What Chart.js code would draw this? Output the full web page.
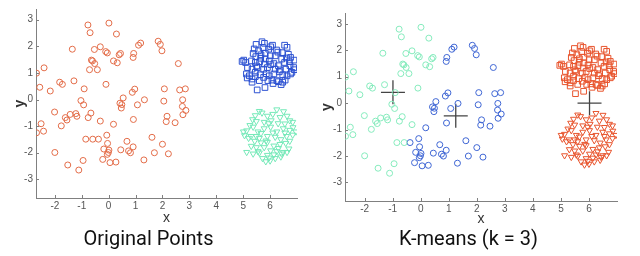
<!DOCTYPE html>
<html>
<head>
<meta charset="utf-8">
<script src="https://cdn.jsdelivr.net/npm/chart.js@4/dist/chart.umd.min.js"></script>
<style>
  html, body { margin: 0; padding: 0; background: #fff; }
  .wrap { display: flex; width: 640px; height: 256px; }
  .wrap div { width: 320px; height: 256px; }
</style>
</head>
<body>
<div class="wrap">
  <div><canvas id="orig" width="320" height="256"></canvas></div>
  <div><canvas id="kmeans" width="320" height="256"></canvas></div>
</div>
<script>
// tick labels
const xTicks = [-2, -1, 0, 1, 2, 3, 4, 5, 6];
const yTicks = [-3, -2, -1, 0, 1, 2, 3];

// group 1: the wide cloud of circles
const circlePts = [
  [-0.77, 2.80], [0.01, 2.87], [-0.69, 2.51], [0.29, 2.46], [-1.35, 1.89], [-0.53, 1.88],
  [-0.31, 1.98], [-0.11, 1.80], [-0.05, 1.75], [0.39, 1.68], [0.44, 1.73], [0.93, 1.73],
  [0.91, 1.58], [1.11, 2.04], [1.19, 2.12], [1.84, 2.19], [1.92, 2.07], [1.98, 1.83],
  [-0.64, 1.48], [-0.60, 1.45], [-0.71, 1.12], [-0.52, 1.35], [-0.42, 1.12], [0.18, 1.45],
  [0.32, 1.38], [2.59, 1.35], [-2.68, 0.99], [-2.40, 1.19], [-2.56, 0.46], [-2.17, 0.32],
  [-1.82, 0.65], [-1.72, 0.57], [-1.29, 0.70], [-0.91, 0.40], [-0.10, 0.57], [0.88, 0.27],
  [0.97, 0.39], [2.07, 0.40], [2.64, 0.36], [2.85, 0.40], [-1.03, -0.04], [-0.93, -0.20],
  [0.42, -0.14], [0.47, -0.32], [0.54, 0.06], [0.49, -0.19], [1.07, -0.20], [1.33, -0.01],
  [2.05, -0.06], [2.75, -0.01], [2.74, -0.26], [2.87, -0.41], [2.76, -0.57], [-2.01, -0.47],
  [-1.22, -0.53], [-1.18, -0.63], [-1.43, -0.56], [-1.61, -0.68], [-1.55, -0.77], [-1.76, -0.99],
  [-0.66, -0.51], [-0.76, -0.68], [-0.31, -0.81], [0.18, -0.93], [0.92, -0.75], [2.17, -0.63],
  [2.14, -0.83], [2.47, -0.87], [-2.51, -0.91], [-2.68, -1.25], [-2.42, -1.19], [-0.85, -1.49],
  [-0.59, -1.49], [-0.38, -1.49], [-0.07, -1.34], [-0.04, -1.65], [0.68, -1.57], [1.61, -1.42],
  [-0.18, -1.86], [-0.01, -1.99], [0.01, -1.90], [0.45, -1.89], [0.74, -1.93], [0.81, -2.00],
  [0.91, -1.78], [2.00, -1.68], [1.70, -2.00], [2.22, -2.04], [-2.00, -1.99], [-0.22, -2.25],
  [0.05, -2.37], [0.27, -2.35], [-0.95, -2.29], [1.31, -2.27], [-1.52, -2.46], [-1.11, -2.65],
  [-0.05, -2.06]
];

// group 2: upper right blob of squares
const squarePts = [
  [5.48, 2.07], [5.70, 2.17], [5.79, 2.11], [6.09, 2.04], [6.54, 2.04], [6.63, 1.96],
  [6.29, 1.78], [5.95, 1.89], [5.57, 1.83], [5.37, 1.73], [5.47, 1.61], [5.66, 1.68],
  [5.82, 1.74], [6.01, 1.64], [6.19, 1.64], [6.43, 1.52], [6.68, 1.70], [6.76, 1.58],
  [6.89, 1.48], [5.02, 1.48], [5.09, 1.39], [5.31, 1.45], [5.45, 1.39], [5.61, 1.42],
  [5.79, 1.33], [5.97, 1.45], [6.14, 1.35], [6.31, 1.27], [6.54, 1.39], [6.74, 1.27],
  [6.88, 1.20], [6.90, 1.12], [5.16, 1.20], [5.33, 1.14], [5.52, 1.20], [5.76, 1.14],
  [5.90, 1.20], [6.19, 1.14], [6.38, 1.11], [6.58, 1.14], [6.81, 1.02], [5.12, 0.96],
  [5.23, 0.89], [5.45, 1.02], [5.63, 0.93], [5.76, 0.83], [5.97, 0.89], [6.14, 0.96],
  [6.34, 1.04], [6.47, 0.93], [6.63, 0.89], [6.76, 0.96], [5.15, 0.81], [5.33, 0.77],
  [5.60, 0.71], [5.92, 0.71], [6.07, 0.73], [6.25, 0.71], [6.47, 0.65], [5.45, 0.86],
  [5.33, 0.65], [5.52, 0.36], [5.81, 0.45], [6.31, 0.67], [6.41, 0.56], [6.56, 0.73],
  [4.96, 1.43], [5.74, 1.95], [6.02, 1.98], [6.72, 1.42], [5.82, 1.52], [5.65, 1.55],
  [6.03, 1.31], [6.24, 1.86], [5.50, 1.26], [6.61, 1.56], [5.86, 0.97], [6.11, 0.60],
  [5.41, 1.90], [6.45, 1.76]
];

// group 3: lower right blob of down triangles
const trianglePts = [
  [5.60, -0.44], [5.90, -0.62], [6.25, -0.38], [6.63, -0.62], [6.73, -0.79], [5.25, -0.97],
  [5.49, -0.82], [5.78, -0.85], [6.04, -0.79], [6.37, -0.67], [6.55, -0.91], [6.84, -0.85],
  [5.13, -1.17], [5.37, -1.03], [5.55, -1.21], [5.78, -1.09], [6.02, -1.03], [6.25, -1.21],
  [6.49, -1.09], [6.73, -1.15], [6.96, -1.21], [5.01, -1.21], [5.29, -1.38], [5.49, -1.38],
  [5.66, -1.27], [5.90, -1.38], [6.19, -1.41], [6.40, -1.50], [6.61, -1.38], [6.84, -1.33],
  [5.43, -1.56], [5.66, -1.62], [5.90, -1.60], [6.14, -1.74], [6.37, -1.68], [6.58, -1.64],
  [6.73, -1.56], [5.49, -1.80], [5.78, -1.80], [6.02, -1.92], [6.31, -1.83], [6.49, -1.98],
  [5.13, -1.98], [5.37, -2.04], [5.60, -2.00], [5.90, -2.09], [6.14, -2.07], [6.43, -2.04],
  [6.63, -1.98], [5.72, -2.21], [5.96, -2.19], [6.19, -2.21], [5.84, -2.33], [5.70, -0.50],
  [6.10, -0.55], [5.35, -0.75], [6.50, -0.45], [5.95, -0.90], [5.20, -1.45], [6.10, -1.25],
  [5.60, -1.45], [6.85, -1.05], [5.30, -1.75], [6.55, -1.25], [5.55, -1.95], [6.25, -1.95],
  [6.00, -2.30], [5.45, -0.60], [6.30, -0.90], [5.85, -1.55], [6.70, -1.85], [5.05, -1.35],
  [6.40, -2.15]
];

// k-means centres (k = 3)
const centroids = [[-0.99, 0.41], [1.25, -0.48], [6.02, 0.0]];

const toXY = pts => pts.map(p => ({ x: p[0], y: p[1] }));

// nearest-centre split of the circle cloud
function nearest(p) {
  let best = 0, bd = Infinity;
  centroids.forEach((c, i) => {
    const d = (p[0] - c[0]) ** 2 + (p[1] - c[1]) ** 2;
    if (d < bd) { bd = d; best = i; }
  });
  return best;
}
const circlesA = circlePts.filter(p => nearest(p) === 0);
const circlesB = circlePts.filter(p => nearest(p) !== 0);

// small inward tick marks like the original plots
const innerTicks = {
  id: 'innerTicks',
  afterDraw(chart) {
    const { ctx, chartArea: a, scales: { x, y } } = chart;
    ctx.save();
    ctx.strokeStyle = '#808080';
    ctx.lineWidth = 1;
    ctx.beginPath();
    x.ticks.forEach(t => {
      const px = Math.round(x.getPixelForValue(t.value)) + 0.5;
      ctx.moveTo(px, a.bottom);
      ctx.lineTo(px, a.bottom - 3);
    });
    y.ticks.forEach(t => {
      const py = Math.round(y.getPixelForValue(t.value)) + 0.5;
      ctx.moveTo(a.left, py);
      ctx.lineTo(a.left + 3, py);
    });
    ctx.stroke();
    ctx.restore();
  }
};

function makeOptions(title, o) {
  return {
    responsive: false,
    animation: false,
    events: [],
    layout: { padding: { top: o.top, right: o.right, left: 0, bottom: 0 } },
    plugins: {
      legend: { display: false },
      tooltip: { enabled: false },
      title: {
        display: true,
        text: title,
        position: 'bottom',
        color: '#111',
        font: { family: 'Roboto', size: 20, weight: 'normal', lineHeight: 1.2 },
        padding: { top: 2, bottom: 4 }
      }
    },
    scales: {
      x: {
        type: 'linear',
        min: -2.7,
        max: 7,
        afterBuildTicks: s => { s.ticks = xTicks.map(v => ({ value: v })); },
        afterFit: s => { s.height = o.xh; },
        grid: { display: false, drawTicks: false },
        border: { display: true, color: '#808080', width: 1 },
        ticks: { color: '#555', padding: 2, font: { family: 'Liberation Sans', size: 10 } },
        title: { display: true, text: 'x', color: '#333', padding: { top: 0, bottom: o.xtb },
                 font: { family: 'Liberation Sans', size: 14, lineHeight: 1 } }
      },
      y: {
        type: 'linear',
        min: -3.7,
        max: 3.4,
        afterBuildTicks: s => { s.ticks = yTicks.map(v => ({ value: v })); },
        afterFit: s => { s.width = o.yw; },
        grid: { display: false, drawTicks: false },
        border: { display: true, color: '#808080', width: 1 },
        ticks: { color: '#555', padding: 3, font: { family: 'Liberation Sans', size: 10 } },
        title: { display: true, text: 'y', color: '#333', padding: { top: o.ytp, bottom: 0 },
                 font: { family: 'Liberation Sans', size: 14, weight: 'bold', lineHeight: 1 } }
      }
    }
  };
}

function pointSet(pts, style, color, radius, rot) {
  return {
    data: toXY(pts),
    pointStyle: style,
    pointRadius: radius,
    pointRotation: rot || 0,
    pointBorderWidth: 1,
    borderColor: color,
    backgroundColor: 'transparent',
    showLine: false
  };
}

new Chart(document.getElementById('orig'), {
  type: 'scatter',
  data: {
    datasets: [
      pointSet(circlePts, 'circle', '#e36c48', 3),
      pointSet(squarePts, 'rect', '#2d52d2', 4),
      pointSet(trianglePts, 'triangle', '#76e9b9', 3.5, 180)
    ]
  },
  options: makeOptions('Original Points', { top: 8, right: 23, xh: 28, xtb: 1, yw: 36, ytp: 13 }),
  plugins: [innerTicks]
});

new Chart(document.getElementById('kmeans'), {
  type: 'scatter',
  data: {
    datasets: [
      pointSet(circlesA, 'circle', '#86ebbd', 3),
      pointSet(circlesB, 'circle', '#3f66d4', 3),
      pointSet(squarePts, 'rect', '#e8552e', 4),
      pointSet(trianglePts, 'triangle', '#e8552e', 3.5, 180),
      {
        data: toXY(centroids),
        pointStyle: 'cross',
        pointRadius: 12,
        pointBorderWidth: 1.3,
        borderColor: '#444',
        backgroundColor: 'transparent',
        showLine: false
      }
    ]
  },
  options: makeOptions('K-means (k = 3)', { top: 2, right: 23, xh: 25, xtb: 0, yw: 25, ytp: 0 }),
  plugins: [innerTicks]
});
</script>
</body>
</html>
